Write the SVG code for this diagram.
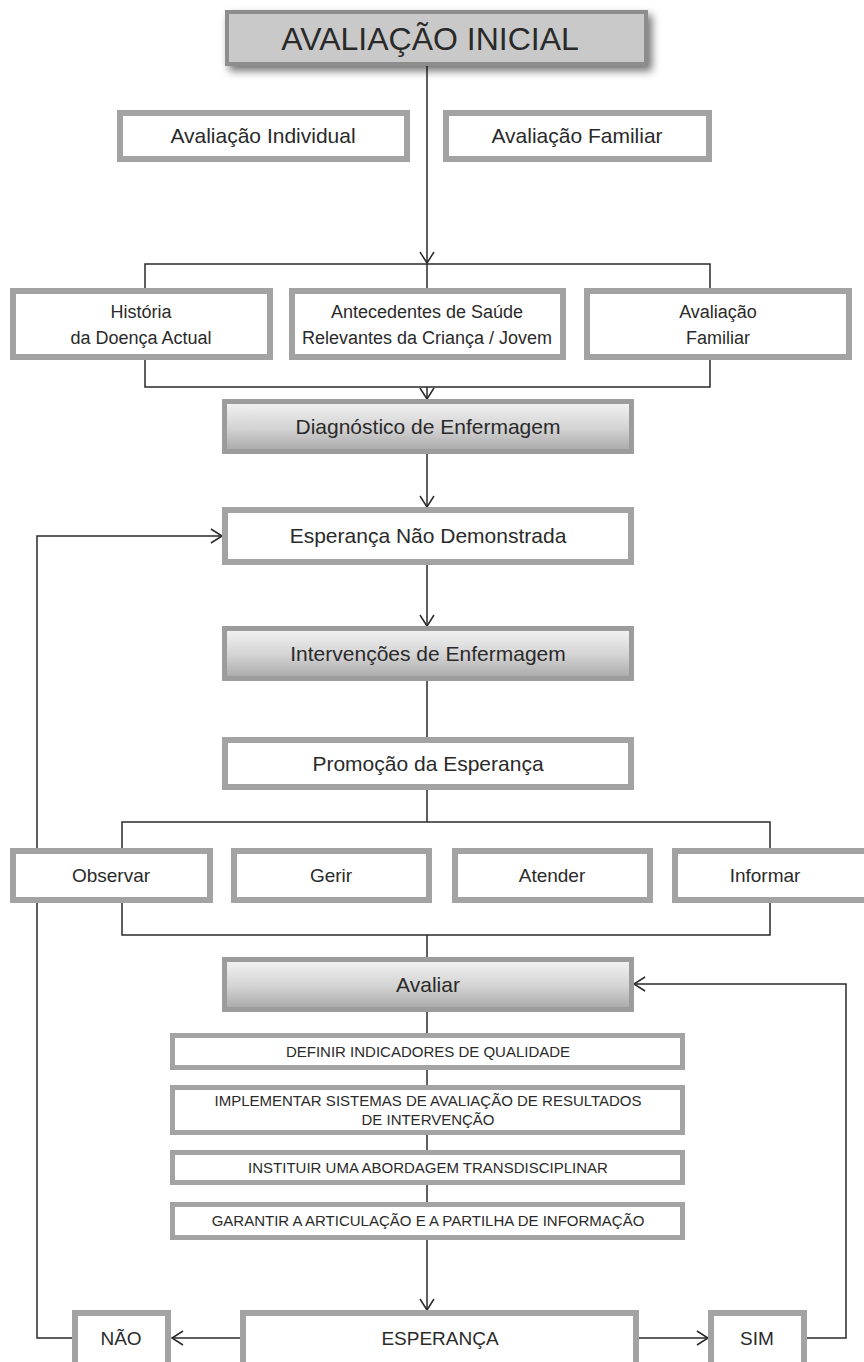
<svg xmlns="http://www.w3.org/2000/svg" width="864" height="1362" viewBox="0 0 864 1362">
<style>
text{font-family:"Liberation Sans",Arial,sans-serif;fill:#2a2a2a;text-anchor:middle}
.wb{fill:#fff;stroke:#a3a3a3;stroke-width:6}
.sb{fill:#fff;stroke:#a3a3a3;stroke-width:5}
.gb{fill:url(#grad);stroke:#9c9c9c;stroke-width:5}
.ln{fill:none;stroke:#2a2a2a;stroke-width:1.5}
.ar{fill:none;stroke:#2a2a2a;stroke-width:1.5;marker-end:url(#arr)}
.t21{font-size:21px}.t18{font-size:18px}.t19{font-size:19px}.t15{font-size:15px}
</style>
<defs>
<linearGradient id="grad" x1="0" y1="0" x2="0" y2="1">
<stop offset="0" stop-color="#f4f4f4"/><stop offset="0.55" stop-color="#d2d2d2"/><stop offset="1" stop-color="#a8a8a8"/>
</linearGradient>
<filter id="shadow" x="-10%" y="-30%" width="125%" height="180%">
<feDropShadow dx="4" dy="5" stdDeviation="4" flood-color="#000" flood-opacity="0.55"/>
</filter>
<marker id="arr" viewBox="0 0 12 14" refX="11" refY="7" markerWidth="12" markerHeight="14" markerUnits="userSpaceOnUse" orient="auto" overflow="visible">
<path d="M0,0 L11,7 L0,14" fill="none" stroke="#2a2a2a" stroke-width="1.5"/>
</marker>
</defs>
<rect width="864" height="1362" fill="#fff"/>
<g id="connectors">
<path class="ar" d="M427,66 V263"/>
<path class="ln" d="M145,288 V264 H710 V288 M427,264 V288"/>
<path class="ln" d="M145,360 V387 H710 V360"/>
<path class="ar" d="M427,387 V399"/>
<path class="ar" d="M427,454 V507"/>
<path class="ar" d="M427,565 V626"/>
<path class="ln" d="M427,681 V737"/>
<path class="ln" d="M427,790 V822 M122,848 V822 H770 V848"/>
<path class="ln" d="M122,903 V935 H770 V903 M427,935 V957"/>
<path class="ln" d="M427,1012 V1202"/>
<path class="ar" d="M427,1240 V1310"/>
<path class="ar" d="M72,1338 H37 V536 H222"/>
<path class="ar" d="M807,1338 H846 V984 H634"/>
<path class="ar" d="M240,1338 H172"/>
<path class="ar" d="M639,1338 H708"/>
</g>
<g id="n-avaliacao-inicial">
<rect x="227" y="12" width="419" height="52" fill="#c9c9c9" stroke="#8d8d8d" stroke-width="4" filter="url(#shadow)"/>
<text x="430" y="50" style="font-size:32px">AVALIAÇÃO INICIAL</text>
</g>
<g id="n-avaliacao-individual">
<rect class="wb" x="120" y="113" width="287" height="46"/>
<text class="t21" x="263" y="143">Avaliação Individual</text>
</g>
<g id="n-avaliacao-familiar-1">
<rect class="wb" x="446" y="113" width="263" height="46"/>
<text class="t21" x="577" y="143">Avaliação Familiar</text>
</g>
<g id="n-historia">
<rect class="wb" x="13" y="291" width="257" height="66"/>
<text class="t18" x="141" y="318">História</text>
<text class="t18" x="141" y="344">da Doença Actual</text>
</g>
<g id="n-antecedentes">
<rect class="wb" x="292" y="291" width="271" height="66"/>
<text class="t18" x="427" y="318">Antecedentes de Saúde</text>
<text class="t18" x="427" y="344">Relevantes da Criança / Jovem</text>
</g>
<g id="n-avaliacao-familiar-2">
<rect class="wb" x="587" y="291" width="262" height="66"/>
<text class="t18" x="718" y="318">Avaliação</text>
<text class="t18" x="718" y="344">Familiar</text>
</g>
<g id="n-diagnostico">
<rect class="gb" x="224.5" y="401.5" width="407" height="50"/>
<text class="t21" x="428" y="434">Diagnóstico de Enfermagem</text>
</g>
<g id="n-esperanca-nao-demonstrada">
<rect class="wb" x="225" y="510" width="406" height="52"/>
<text class="t21" x="428" y="543">Esperança Não Demonstrada</text>
</g>
<g id="n-intervencoes">
<rect class="gb" x="224.5" y="628.5" width="407" height="50"/>
<text class="t21" x="428" y="661">Intervenções de Enfermagem</text>
</g>
<g id="n-promocao">
<rect class="wb" x="225" y="740" width="406" height="47"/>
<text class="t21" x="428" y="771">Promoção da Esperança</text>
</g>
<g id="n-observar">
<rect class="wb" x="13" y="851" width="197" height="49"/>
<text class="t19" x="111" y="882">Observar</text>
</g>
<g id="n-gerir">
<rect class="wb" x="234" y="851" width="195" height="49"/>
<text class="t19" x="331" y="882">Gerir</text>
</g>
<g id="n-atender">
<rect class="wb" x="455" y="851" width="195" height="49"/>
<text class="t19" x="552" y="882">Atender</text>
</g>
<g id="n-informar">
<rect class="wb" x="675" y="851" width="195" height="49"/>
<text class="t19" x="765" y="882">Informar</text>
</g>
<g id="n-avaliar">
<rect class="gb" x="224.5" y="959.5" width="407" height="50"/>
<text class="t21" x="428" y="992">Avaliar</text>
</g>
<g id="n-definir">
<rect class="sb" x="172.5" y="1035.5" width="510" height="32"/>
<text class="t15" x="428" y="1057">DEFINIR INDICADORES DE QUALIDADE</text>
</g>
<g id="n-implementar">
<rect class="sb" x="172.5" y="1087.5" width="510" height="45"/>
<text class="t15" x="428" y="1106">IMPLEMENTAR SISTEMAS DE AVALIAÇÃO DE RESULTADOS</text>
<text class="t15" x="428" y="1125">DE INTERVENÇÃO</text>
</g>
<g id="n-instituir">
<rect class="sb" x="172.5" y="1152.5" width="510" height="30"/>
<text class="t15" x="428" y="1173">INSTITUIR UMA ABORDAGEM TRANSDISCIPLINAR</text>
</g>
<g id="n-garantir">
<rect class="sb" x="172.5" y="1204.5" width="510" height="33"/>
<text class="t15" x="428" y="1226">GARANTIR A ARTICULAÇÃO E A PARTILHA DE INFORMAÇÃO</text>
</g>
<g id="n-nao">
<rect class="wb" x="75" y="1313" width="93" height="60"/>
<text class="t19" x="121" y="1345">NÃO</text>
</g>
<g id="n-esperanca">
<rect class="wb" x="243" y="1313" width="393" height="60"/>
<text class="t19" x="440" y="1345">ESPERANÇA</text>
</g>
<g id="n-sim">
<rect class="wb" x="711" y="1313" width="93" height="60"/>
<text class="t19" x="757" y="1345">SIM</text>
</g>
</svg>
